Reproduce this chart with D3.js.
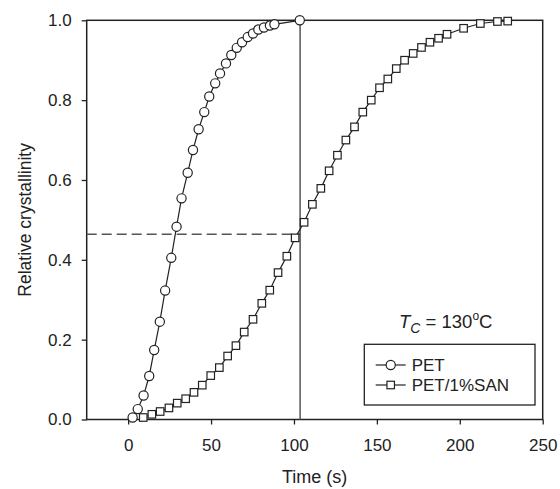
<!DOCTYPE html>
<html>
<head>
<meta charset="utf-8">
<script src="https://cdn.jsdelivr.net/npm/d3@7"></script>
<style>
  body { margin: 0; background: #fff; }
  svg { font-family: "Liberation Sans", Arial, sans-serif; }
</style>
</head>
<body>
<svg id="chart" width="560" height="489"></svg>
<script>
// PET (circles)
var petTime = [2.7, 5.8, 9.3, 12.7, 15.7, 19.1, 22.3, 26.0, 29.2, 32.2, 35.9, 39.1, 42.5,
  45.9, 48.9, 52.5, 55.4, 59.0, 62.2, 65.5, 68.7, 72.1, 75.3, 78.5, 81.9, 85.5, 88.2, 103.5];
var petValue = [0.005, 0.026, 0.060, 0.109, 0.174, 0.245, 0.323, 0.405, 0.483, 0.554, 0.618,
  0.675, 0.727, 0.770, 0.809, 0.842, 0.867, 0.892, 0.913, 0.931, 0.945, 0.958, 0.967, 0.977,
  0.982, 0.987, 0.990, 1.0];

// PET/1%SAN (squares)
var sanTime = [9.1, 14.3, 19.3, 24.6, 29.6, 34.7, 39.7, 44.7, 49.8, 55.0, 60.0, 65.0, 70.0,
  75.3, 80.6, 85.4, 90.4, 95.7, 100.7, 106.1, 111.1, 116.2, 121.2, 126.2, 131.3, 136.5,
  141.5, 146.6, 151.6, 156.6, 161.7, 166.7, 171.9, 176.9, 182.0, 187.2, 192.3, 202.3,
  212.4, 222.7, 228.9];
var sanValue = [0.005, 0.013, 0.020, 0.029, 0.041, 0.052, 0.068, 0.086, 0.110, 0.130, 0.159,
  0.185, 0.219, 0.251, 0.291, 0.324, 0.368, 0.409, 0.455, 0.494, 0.539, 0.579, 0.623, 0.662,
  0.700, 0.733, 0.770, 0.800, 0.831, 0.853, 0.879, 0.900, 0.917, 0.932, 0.945, 0.955, 0.965,
  0.980, 0.992, 0.997, 0.998];

var xTicks = [0, 50, 100, 150, 200, 250];
var yTicks = [0.0, 0.2, 0.4, 0.6, 0.8, 1.0];

// half-time guide lines
var tHalf = 103.7, xHalf = 0.464;

var svg = d3.select("svg#chart"),
  margin = { top: 20.3, right: 17.3, bottom: 69.5, left: 86.7 },
  width = +svg.attr("width") - margin.left - margin.right,
  height = +svg.attr("height") - margin.top - margin.bottom,
  g = svg.append("g")
    .attr("transform", "translate(" + margin.left + "," + margin.top + ")");

var x = d3.scaleLinear().domain([-25, 250]).range([0, width]);
var y = d3.scaleLinear().domain([0, 1]).range([height, 0]);

var ink = "#222";

// axes
var xAxis = g.append("g")
  .attr("transform", "translate(0," + height + ")")
  .call(d3.axisBottom(x).tickValues(xTicks).tickSize(5).tickPadding(14).tickFormat(d3.format("d")));
var yAxis = g.append("g")
  .call(d3.axisLeft(y).tickValues(yTicks).tickSize(5).tickPadding(10).tickFormat(d3.format(".1f")));

[xAxis, yAxis].forEach(function (a) {
  a.attr("font-family", null).attr("font-size", 17);
  a.select(".domain").remove();
  a.selectAll(".tick line").attr("stroke", ink).attr("stroke-width", 1.3);
  a.selectAll(".tick text").attr("fill", ink);
});
xAxis.selectAll(".tick text").attr("dy", "0.71em");

// frame
g.append("rect")
  .attr("width", width).attr("height", height)
  .attr("fill", "none").attr("stroke", ink).attr("stroke-width", 1.5);

// guide lines
g.append("line")
  .attr("x1", x(tHalf)).attr("x2", x(tHalf))
  .attr("y1", y(0)).attr("y2", y(1))
  .attr("stroke", "#555").attr("stroke-width", 1.5);
g.append("line")
  .attr("x1", 0).attr("x2", x(tHalf))
  .attr("y1", y(xHalf)).attr("y2", y(xHalf))
  .attr("stroke", "#555").attr("stroke-width", 1.5)
  .attr("stroke-dasharray", "10,5");

var line = d3.line()
  .x(function (d) { return x(d[0]); })
  .y(function (d) { return y(d[1]); });

var pet = petTime.map(function (t, i) { return [t, petValue[i]]; });
var san = sanTime.map(function (t, i) { return [t, sanValue[i]]; });

g.append("path").datum(pet).attr("d", line)
  .attr("fill", "none").attr("stroke", ink).attr("stroke-width", 1.2);
g.append("path").datum(san).attr("d", line)
  .attr("fill", "none").attr("stroke", ink).attr("stroke-width", 1.2);

var sq = 7.5;
g.selectAll("rect.san").data(san).enter().append("rect")
  .attr("class", "san")
  .attr("x", function (d) { return x(d[0]) - sq / 2; })
  .attr("y", function (d) { return y(d[1]) - sq / 2; })
  .attr("width", sq).attr("height", sq)
  .attr("fill", "#fff").attr("stroke", ink).attr("stroke-width", 1.2);

g.selectAll("circle.pet").data(pet).enter().append("circle")
  .attr("class", "pet")
  .attr("cx", function (d) { return x(d[0]); })
  .attr("cy", function (d) { return y(d[1]); })
  .attr("r", 4.6)
  .attr("fill", "#fff").attr("stroke", ink).attr("stroke-width", 1.2);

// axis titles
svg.append("text")
  .attr("x", margin.left + width / 2).attr("y", 483)
  .attr("text-anchor", "middle").attr("font-size", 18).attr("fill", ink)
  .text("Time (s)");
svg.append("text")
  .attr("transform", "translate(31," + (margin.top + height / 2) + ") rotate(-90)")
  .attr("text-anchor", "middle").attr("font-size", 17.5).attr("fill", ink)
  .text("Relative crystallinity");

// Tc annotation
var tc = svg.append("text")
  .attr("x", 399).attr("y", 328)
  .attr("font-size", 18.5).attr("fill", ink);
tc.append("tspan").attr("font-style", "italic").text("T");
tc.append("tspan").attr("font-style", "italic").attr("font-size", 14).attr("dy", 5).text("C");
tc.append("tspan").attr("dy", -5).text(" = 130");
tc.append("tspan").attr("font-size", 12).attr("dy", -8).text("o");
tc.append("tspan").attr("dy", 8).text("C");

// legend
var legend = svg.append("g").attr("transform", "translate(364.3,344.3)");
legend.append("rect")
  .attr("width", 170.7).attr("height", 60.7)
  .attr("fill", "#fff").attr("stroke", ink).attr("stroke-width", 1.3);

var items = legend.selectAll("g.item")
  .data(["PET", "PET/1%SAN"])
  .enter().append("g")
  .attr("transform", function (d, i) { return "translate(0," + (20.7 + i * 20) + ")"; });
items.append("line")
  .attr("x1", 11.4).attr("x2", 41.4)
  .attr("stroke", ink).attr("stroke-width", 1.2);
items.filter(function (d, i) { return i === 0; }).append("circle")
  .attr("cx", 26.4).attr("r", 4.6)
  .attr("fill", "#fff").attr("stroke", ink).attr("stroke-width", 1.2);
items.filter(function (d, i) { return i === 1; }).append("rect")
  .attr("x", 26.4 - sq / 2).attr("y", -sq / 2).attr("width", sq).attr("height", sq)
  .attr("fill", "#fff").attr("stroke", ink).attr("stroke-width", 1.2);
items.append("text")
  .attr("x", 47.4).attr("dy", "0.35em")
  .attr("font-size", 17).attr("fill", ink)
  .text(function (d) { return d; });
</script>
</body>
</html>
